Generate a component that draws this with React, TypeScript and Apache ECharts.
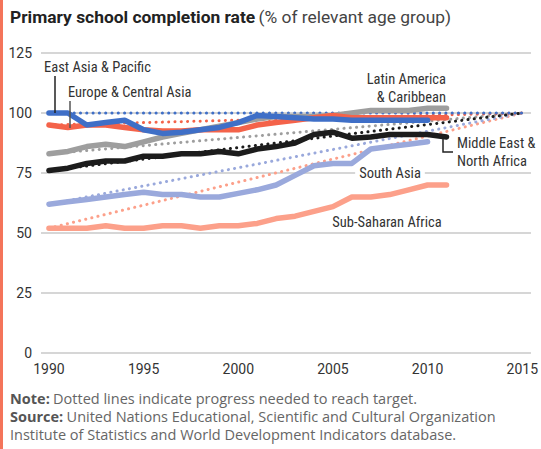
import React, { useEffect, useRef } from "react";
import * as echarts from "echarts";

const years = [1990, 1991, 1992, 1993, 1994, 1995, 1996, 1997, 1998, 1999, 2000, 2001, 2002, 2003, 2004, 2005, 2006, 2007, 2008, 2009, 2010, 2011];
const xTicks = [1990, 1995, 2000, 2005, 2010, 2015];
const targetYears = [1990, 2015];

const eastAsia = [100, 100, 95, 96, 97, 93, 91.5, 92, 93, 94, 96, 99, 98.5, 98, 97.5, 97.5, 97, 97, 97, 97, 97];
const europe = [95, 94, 95, 95, 94, 93, 92.5, 92.5, 93, 93, 93, 95, 96, 97, 98, 99, 98, 98, 98, 98, 98, 98];
const latin = [83, 84, 86, 87, 86, 88, 90, 91.5, 93, 94.5, 96, 97.5, 98.5, 98.5, 98.5, 99, 100, 101, 101, 101, 102, 102];
const mena = [76, 77, 79, 80, 80, 82, 82, 83, 83, 84, 83, 85, 86, 87.5, 91, 92, 89.5, 90, 91, 91, 91, 90];
const southAsia = [62, 63, 64, 65, 66, 67, 66, 66, 65, 65, 66.5, 68, 70, 74, 78, 79, 79, 85, 86, 87, 88];
const ssa = [52, 52, 52, 53, 52, 52, 53, 53, 52, 53, 53, 54, 56, 57, 59, 61, 65, 65, 66, 68, 70, 70];

const eastAsiaTarget = [100, 100];
const europeTarget = [95, 100];
const latinTarget = [83, 100];
const menaTarget = [76, 100];
const southAsiaTarget = [62, 100];
const ssaTarget = [52, 100];

const FONT = "'Liberation Sans Narrow', 'Roboto Condensed', Roboto, sans-serif";
const BASE = "Roboto, 'Open Sans', sans-serif";
const NOTE = "'Open Sans', Roboto, sans-serif";

const pair = (xs: number[], ys: number[]) => ys.map((v, i) => [xs[i], v]);

export default function App() {
  const ref = useRef<HTMLDivElement>(null);
  useEffect(() => {
    if (!ref.current) return;
    const chart = echarts.init(ref.current, null, { renderer: "svg" });
    const regions = [
      { name: "Sub-Saharan Africa", data: ssa, target: ssaTarget, color: "#fca08a" },
      { name: "South Asia", data: southAsia, target: southAsiaTarget, color: "#9aa9dc" },
      { name: "Latin America & Caribbean", data: latin, target: latinTarget, color: "#9e9e9e" },
      { name: "Europe & Central Asia", data: europe, target: europeTarget, color: "#f4634a" },
      { name: "East Asia & Pacific", data: eastAsia, target: eastAsiaTarget, color: "#3f6fc7" },
      { name: "Middle East & North Africa", data: mena, target: menaTarget, color: "#1c1c1c" },
    ];
    const series: any[] = [];
    regions.forEach((r) => {
      series.push({
        type: "line",
        name: r.name + " target",
        data: pair(targetYears, r.target),
        symbol: "none",
        z: 1,
        lineStyle: { color: r.color, width: 3, type: [0.1, 6.2], cap: "round" },
        silent: true,
      });
    });
    regions.forEach((r, i) => {
      series.push({
        type: "line",
        name: r.name,
        data: pair(years, r.data),
        symbol: "none",
        z: 3 + i,
        lineStyle: { color: r.color, width: 5.5, cap: "round", join: "round" },
        silent: true,
      });
    });
    const txt = (x: number, y: number, text: string, align = "left", extra: any = {}) => ({
      type: "text",
      x,
      y,
      z: 100,
      style: {
        text,
        fill: "#333",
        font: `14.5px ${FONT}`,
        align,
        verticalAlign: "middle",
        ...extra,
      },
    });
    chart.setOption({
      animation: false,
      grid: { left: 41, right: 7, top: 53, bottom: 96 },
      xAxis: {
        type: "value",
        min: 1989.58,
        max: 2015.46,
        axisLine: { show: false },
        axisTick: { show: false },
        splitLine: { show: false },
        axisLabel: {
          customValues: xTicks,
          color: "#333",
          fontSize: 14,
          fontFamily: BASE,
          margin: 9,
          formatter: (v: number) => String(v),
        },
      },
      yAxis: {
        type: "value",
        min: 0,
        max: 125,
        interval: 25,
        axisLine: { show: false },
        axisTick: { show: false },
        splitLine: { lineStyle: { color: "#c8c8c8", width: 1.5 } },
        axisLabel: { color: "#333", fontSize: 14, fontFamily: BASE, margin: 9 },
      },
      series,
      graphic: [
        { type: "rect", shape: { x: 0, y: 0, width: 3, height: 449 }, style: { fill: "#f4745a" } },
        {
          type: "text",
          x: 10,
          y: 17,
          style: {
            text: "{b|Primary school completion rate} {n|(% of relevant age group)}",
            verticalAlign: "middle",
            rich: {
              b: { font: `bold 17.4px ${BASE}`, fill: "#222" },
              n: { font: `17.4px ${BASE}`, fill: "#444" },
            },
          },
        },
        {
          type: "text",
          x: 10,
          y: 389,
          style: {
            text: "{b|Note:} {n|Dotted lines indicate progress needed to reach target.}\n{b|Source:} {n|United Nations Educational, Scientific and Cultural Organization}\n{n|Institute of Statistics and World Development Indicators database.}",
            verticalAlign: "top",
            lineHeight: 18,
            rich: {
              b: { font: `bold 14.5px ${NOTE}`, fill: "#555", lineHeight: 18 },
              n: { font: `14.5px ${NOTE}`, fill: "#666", lineHeight: 18 },
            },
          },
        },
        txt(44, 67, "East Asia & Pacific"),
        { type: "line", z: 100, shape: { x1: 55, y1: 76, x2: 55, y2: 113 }, style: { stroke: "#222", lineWidth: 1.5 } },
        txt(68, 92, "Europe & Central Asia"),
        { type: "line", z: 100, shape: { x1: 70, y1: 101, x2: 70, y2: 128 }, style: { stroke: "#555", lineWidth: 1.5 } },
        txt(446, 79, "Latin America", "right"),
        txt(446, 97, "& Caribbean", "right"),
        txt(457, 143, "Middle East &"),
        txt(457, 161, "North Africa"),
        {
          type: "polyline",
          z: 100,
          shape: { points: [[443, 139], [443, 152], [453, 152]] },
          style: { stroke: "#222", lineWidth: 1.5, fill: "none" },
        },
        txt(390, 173, "South Asia", "center", { backgroundColor: "#fff", padding: [0, 4] }),
        txt(387, 222, "Sub-Saharan Africa", "center"),
      ],
    });
    return () => chart.dispose();
  }, []);
  return <div ref={ref} style={{ position: "fixed", left: 0, top: 0, width: 541, height: 449, background: "#fff" }} />;
}
